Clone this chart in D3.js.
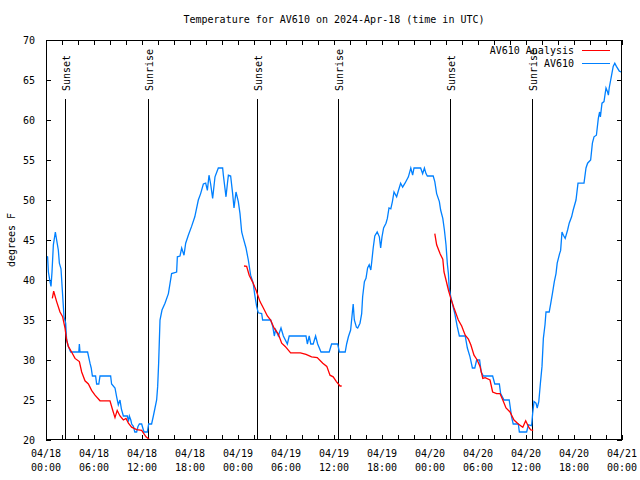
<!DOCTYPE html>
<html>
<head>
<meta charset="utf-8">
<script src="https://cdn.jsdelivr.net/npm/d3@7"></script>
<style>
  html, body { margin: 0; padding: 0; background: #fff; }
  svg { display: block; }
  text { font-family: "DejaVu Sans Mono", "Liberation Mono", monospace; font-size: 10px; fill: #000; }
</style>
</head>
<body>
<svg id="chart" width="640" height="480"></svg>
<script>
// ---- Data (hours after 2024-04-18 00:00 UTC) ----
const titleText = "Temperature for AV610 on 2024-Apr-18 (time in UTC)";
const yLabelText = "degrees F";
const seriesNames = ["AV610 Analysis", "AV610"];
const startTime = "2024-04-18T00:00:00Z";
const endTime = "2024-04-21T00:00:00Z";
const yTicks = [20, 25, 30, 35, 40, 45, 50, 55, 60, 65, 70];

// Observed (AV610)
const obsHours = [0.0,0.2,0.3,0.5,0.625,0.75,0.92,1.17,1.33,1.54,1.67,1.875,2.04,2.25,2.46,2.58,2.79,3.08,4.1,4.17,4.25,5.2,5.5,5.65,5.8,6.2,6.33,6.6,6.75,8.08,8.2,8.625,8.83,9.04,9.25,9.42,9.67,10.17,10.3,10.42,10.6,10.71,10.92,11.1,11.33,11.5,11.67,11.96,12.1,12.25,12.67,12.83,13.2,13.42,13.625,13.83,13.96,14.08,14.25,14.5,14.875,15.3,15.7,16.33,16.42,16.75,16.96,17.25,17.46,17.79,18.2,18.6,19.04,19.33,19.67,19.96,20.17,20.375,20.58,20.83,21.125,21.54,22.08,22.17,22.5,22.67,22.8,23.08,23.33,23.5,23.75,24.04,24.25,24.46,24.67,25.0,25.29,25.58,25.9,26.1,26.33,26.54,26.96,27.08,28.08,28.33,28.54,28.7,29.04,29.375,29.67,30.17,30.4,32.5,32.67,32.9,33.1,33.4,33.7,33.96,34.375,35.4,35.7,36.46,36.67,37.4,37.58,37.8,38.08,38.3,38.4,38.54,38.8,38.96,39.25,39.46,39.58,39.8,40.0,40.2,40.4,40.6,40.7,40.9,41.1,41.4,41.67,41.83,42.0,42.2,42.5,42.67,42.875,43.1,43.3,43.5,43.83,44.0,44.33,44.58,44.875,45.3,45.6,45.83,46.0,46.83,47.08,47.3,47.5,47.67,48.4,48.6,48.83,49.17,49.33,49.6,49.8,50.0,50.17,50.3,50.4,50.6,50.83,51.1,51.4,51.67,52.4,52.67,53.0,53.3,53.6,53.83,54.2,54.4,54.67,55.83,56.1,56.67,56.83,57.25,57.9,58.2,58.4,59.04,59.17,60.08,60.3,60.7,60.83,61.0,61.25,61.4,61.6,61.8,62.0,62.17,62.375,62.5,62.9,63.1,63.3,63.54,63.75,63.9,64.2,64.33,64.5,64.67,64.9,65.2,65.4,65.7,65.9,66.25,66.5,67.25,67.5,67.7,68.08,68.3,68.5,68.8,69.04,69.2,69.3,69.5,69.75,70.0,70.2,70.3,70.4,70.7,70.9,71.1,71.3,71.67,71.9];
const obsTemps = [43,42.9,41,39.8,39.2,41,44.4,46,45,43.75,42.1,41.4,38.75,35.4,34.6,32.5,31.7,31,31,32,31,31,29.6,29,28,28,27,27,28,28,27,26.5,25.4,24.4,25,23.9,23,23,22.3,23,22.5,22,21.7,21,21,21.7,22,22,21.5,21,21,22,22,23,24,25,26.7,29.6,35,36.25,37.1,38.3,40.8,41,42.9,43,44,43.1,44.6,45.6,46.7,47.9,50,50.8,52,52.1,51.2,53.1,52,50.2,52.9,54,54,53.1,50.4,52,53.1,53,50.8,49,51,49.8,48.3,46,45.2,44,42.5,40.6,39.6,38.1,36.7,35.9,35.8,35,35,34.25,33,33.8,33,34,33,32,33,33,32,33,32,32,33,32,31,31,32,32,31,31,32,32.9,33.75,36,37,35,34.1,34,34.6,35.8,37.9,39.8,40.2,41.5,41.9,41.25,42.1,44,45.5,46,45.4,44,45.4,46.5,47.1,47.7,49,48.9,49.8,51,50.4,51,52.1,51.6,52.1,52.9,54,53.1,54,54,53.3,54,53.3,53,53,52.3,50.8,49.8,48.75,47.7,46.25,44.4,42,40.8,39,37.9,36.9,35.8,34.2,33,33,31.5,30.4,29,29,30,30,28.5,28,28,27,27,25.8,25,25,22.9,22,22,21,21,21.9,21.8,23.3,24.8,24.6,24,24.8,27.1,29.2,32.7,34.4,36,36,37.1,38.3,39.8,40.8,42.1,43.3,43.7,46,45.6,45.2,46.25,47.1,47.9,48.75,50,52.1,52.1,54,54.6,55,57.1,57.9,58.1,60.2,61,60.4,62.1,62.3,64,63.5,63.1,64,65.6,66.7,67.1,66.7,66.1,66];

// Analysis (AV610 Analysis); null marks a gap
const anaHours = [0.79,0.96,1.33,1.75,2.08,2.375,2.58,2.79,3.2,3.625,4.17,4.46,4.875,5.3,5.7,6.125,6.75,8.0,8.33,8.625,8.9,9.25,9.67,10.0,10.3,10.7,11.33,11.96,12.5,12.9,
  18.0,
  24.75,25.08,25.4,25.8,26.25,26.75,27.17,27.67,28.08,28.5,29.04,29.46,29.9,30.58,31.25,31.8,32.5,33.2,33.9,34.6,35.1,35.5,35.9,36.3,36.75,36.96,
  42.0,
  48.6,48.83,49.25,49.6,49.75,50.0,50.3,50.6,51.0,51.54,51.96,52.4,52.8,53.1,53.5,53.9,54.25,54.6,54.9,55.5,55.83,56.33,56.75,57.1,57.5,58.0,58.5,59.04,59.6,59.96,60.2,60.4,60.6,60.9];
const anaTemps = [37.7,38.6,37.3,36,35.4,34,32.5,31.7,31,30.2,29.8,28.5,27.4,27,26.2,25.6,24.9,24.9,23.75,22.8,23.7,23,22.5,22.7,22.1,21.6,21.3,21.2,20.4,20.1,
  null,
  41.75,41.7,40.6,39.8,38.75,37.3,36.5,35.5,35,34,33.25,32.1,31.7,30.9,30.9,30.9,30.7,30.4,30.3,29.6,29.2,28.1,27.9,27.3,26.75,26.75,
  null,
  45.8,44.4,43.3,42.6,41,40,38.75,37.7,36.5,35,34.25,33.1,32.6,31.9,30.6,30,29.2,27.7,27.8,27.5,26,25.8,25.8,25,24,23.5,22.5,22,21.6,22.4,21.9,21.5,21.25,21.2];

// Sunset / sunrise markers (hours after start)
const sunEventHours = [2.42, 12.79, 26.33, 36.56, 50.46, 60.71];
const sunEventLabels = ["Sunset", "Sunrise", "Sunset", "Sunrise", "Sunset", "Sunrise"];

// ---- Drawing ----
const colors = { analysis: "#ff0000", obs: "#0080ff" };
const svg = d3.select("#chart");
const W = 640, H = 480;
const m = { left: 46, right: 18, top: 40, bottom: 40 };
const t0 = new Date(startTime), t1 = new Date(endTime);
const toDate = h => new Date(t0.getTime() + h * 3600e3);

const x = d3.scaleUtc().domain([t0, t1]).range([m.left, W - m.right]);
const y = d3.scaleLinear().domain([20, 70]).range([H - m.bottom, m.top]);

// Title
svg.append("text").attr("x", (m.left + W - m.right) / 2).attr("y", 23)
  .attr("text-anchor", "middle").text(titleText);

// Y label
svg.append("text").attr("transform", `translate(15,${(m.top + H - m.bottom) / 2}) rotate(-90)`)
  .attr("text-anchor", "middle").text(yLabelText);

const tickHours = d3.utcHour.every(2);
const axisStyle = g => {
  g.select(".domain").remove();
  g.selectAll("line").attr("stroke", "#000").attr("shape-rendering", "crispEdges");
};

svg.append("g").attr("transform", `translate(0,${H - m.bottom})`)
  .call(d3.axisBottom(x).ticks(tickHours).tickSize(-5).tickFormat(""))
  .call(axisStyle);
svg.append("g").attr("transform", `translate(0,${m.top})`)
  .call(d3.axisTop(x).ticks(tickHours).tickSize(-5).tickFormat(""))
  .call(axisStyle);
svg.append("g").attr("transform", `translate(${m.left},0)`)
  .call(d3.axisLeft(y).tickValues(yTicks).tickSize(-5).tickPadding(11).tickFormat(d3.format("d")))
  .call(axisStyle)
  .call(g => g.selectAll("text").attr("font-family", null).attr("font-size", null).attr("fill", "#000"));
svg.append("g").attr("transform", `translate(${W - m.right},0)`)
  .call(d3.axisRight(y).tickValues(yTicks).tickSize(-5).tickFormat(""))
  .call(axisStyle);

// X tick labels (every 6 hours, two lines)
const labelTimes = x.ticks(d3.utcHour.every(6));
const fmtDate = d3.utcFormat("%m/%d"), fmtTime = d3.utcFormat("%H:%M");
const xl = svg.append("g");
labelTimes.forEach(d => {
  const tx = xl.append("text").attr("text-anchor", "middle");
  tx.append("tspan").attr("x", x(d)).attr("y", H - m.bottom + 17).text(fmtDate(d));
  tx.append("tspan").attr("x", x(d)).attr("y", H - m.bottom + 31).text(fmtTime(d));
});

// Sunrise / sunset lines
const ev = svg.append("g");
sunEventHours.forEach((h, i) => {
  const px = Math.round(x(toDate(h))) + 0.5;
  ev.append("line").attr("x1", px).attr("x2", px).attr("y1", 99).attr("y2", H - m.bottom)
    .attr("stroke", "#000").attr("stroke-width", 1).attr("shape-rendering", "crispEdges");
  ev.append("text").attr("transform", `translate(${px + 4},91) rotate(-90)`)
    .attr("text-anchor", "start").text(sunEventLabels[i]);
});

// Series
svg.append("clipPath").attr("id", "clip").append("rect")
  .attr("x", m.left).attr("y", m.top).attr("width", W - m.left - m.right).attr("height", H - m.top - m.bottom);

const obsData = obsHours.map((h, i) => ({ t: toDate(h), v: obsTemps[i] }));
const anaData = anaHours.map((h, i) => ({ t: toDate(h), v: anaTemps[i] }));
const line = d3.line().defined(d => d.v != null).x(d => x(d.t)).y(d => y(d.v));

const plot = svg.append("g").attr("clip-path", "url(#clip)");
plot.append("path").datum(obsData).attr("d", line)
  .attr("fill", "none").attr("stroke", colors.obs).attr("stroke-width", 1.3);
plot.append("path").datum(anaData).attr("d", line)
  .attr("fill", "none").attr("stroke", colors.analysis).attr("stroke-width", 1.3);

// Frame
svg.append("rect").attr("x", m.left + 0.5).attr("y", m.top + 0.5)
  .attr("width", W - m.left - m.right - 1).attr("height", H - m.top - m.bottom - 1)
  .attr("fill", "none").attr("stroke", "#000").attr("shape-rendering", "crispEdges");

// Legend
const leg = svg.append("g");
[[seriesNames[0], colors.analysis, 50], [seriesNames[1], colors.obs, 63]].forEach(([name, c, ly]) => {
  leg.append("text").attr("x", 574).attr("y", ly + 3.5).attr("text-anchor", "end").text(name);
  leg.append("line").attr("x1", 582).attr("x2", 610).attr("y1", ly + 0.5).attr("y2", ly + 0.5)
    .attr("stroke", c).attr("stroke-width", 1).attr("shape-rendering", "crispEdges");
});
</script>
</body>
</html>
